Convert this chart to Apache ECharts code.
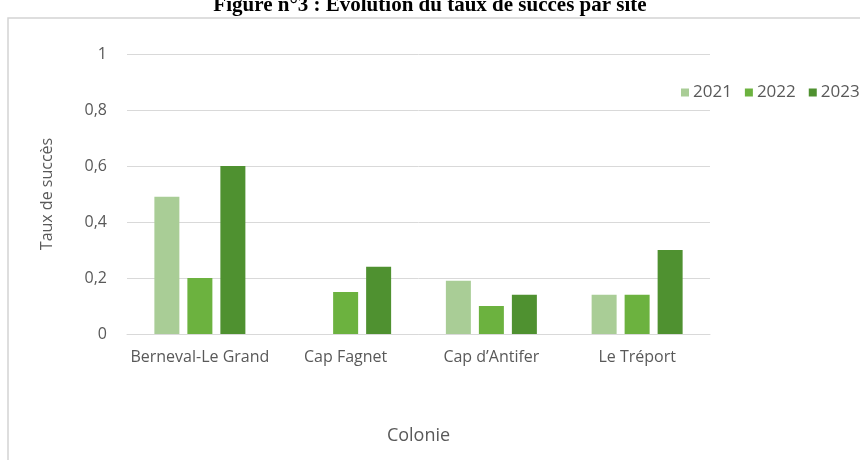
<!DOCTYPE html>
<html>
<head>
<meta charset="utf-8">
<script src="https://cdn.jsdelivr.net/npm/echarts@6/dist/echarts.min.js"></script>
<style>
  html, body { margin: 0; padding: 0; background: #fff; }
  #chart { width: 860px; height: 460px; }
</style>
</head>
<body>
<div id="chart"></div>
<script>
// données
var colonies = ['Berneval-Le Grand', 'Cap Fagnet', "Cap d\u2019Antifer", 'Le Tréport']
var annees = ['2021', '2022', '2023']
var taux2021 = [0.49, 0, 0.19, 0.14]
var taux2022 = [0.2, 0.15, 0.1, 0.14]
var taux2023 = [0.6, 0.24, 0.14, 0.3]
var couleurs = ['#a9cd96', '#6cb23f', '#4f9130']

var font = 'Open Sans, Lato, sans-serif'

let chart = echarts.init(document.getElementById('chart'))

let series = [taux2021, taux2022, taux2023].map((vals, i) => ({
  name: annees[i],
  type: 'bar',
  data: vals,
  barWidth: 25,
  barGap: '32%',
  itemStyle: { color: couleurs[i] }
}))

chart.setOption({
  animation: false,
  title: {
    text: 'Figure n°3 : Evolution du taux de succès par site',
    left: 'center',
    top: -10,
    textStyle: { fontFamily: 'Liberation Serif, serif', fontWeight: 'bold', fontSize: 21, color: '#000' }
  },
  graphic: [{
    type: 'rect',
    shape: { x: 8, y: 18, width: 870, height: 460 },
    style: { fill: 'none', stroke: '#d4d4d4', lineWidth: 1.5 },
    silent: true
  }],
  legend: {
    data: annees,
    left: 676,
    top: 79,
    width: 260,
    itemWidth: 8,
    itemHeight: 8,
    itemGap: 13,
    icon: 'rect',
    textStyle: { fontFamily: font, fontSize: 17, color: '#595959', padding: [0, 0, 0, -1] }
  },
  grid: { left: 127, right: 150, top: 54, bottom: 126 },
  xAxis: {
    type: 'category',
    data: colonies,
    name: 'Colonie',
    nameLocation: 'middle',
    nameGap: 93,
    nameTextStyle: { fontFamily: font, fontSize: 18, color: '#595959' },
    axisLine: { lineStyle: { color: '#d9d9d9' } },
    axisTick: { show: false },
    axisLabel: { interval: 0, fontFamily: font, fontSize: 16, color: '#595959', margin: 15 }
  },
  yAxis: {
    type: 'value',
    min: 0,
    max: 1,
    interval: 0.2,
    name: 'Taux de succès',
    nameLocation: 'middle',
    nameGap: 72,
    nameTextStyle: { fontFamily: font, fontSize: 16, color: '#595959' },
    axisLine: { show: false },
    axisTick: { show: false },
    splitLine: { lineStyle: { color: '#d9d9d9' } },
    axisLabel: {
      fontFamily: font, fontSize: 16, color: '#595959', margin: 20,
      formatter: v => String(Math.round(v * 10) / 10).replace('.', ',')
    }
  },
  series: series
})
</script>
</body>
</html>
